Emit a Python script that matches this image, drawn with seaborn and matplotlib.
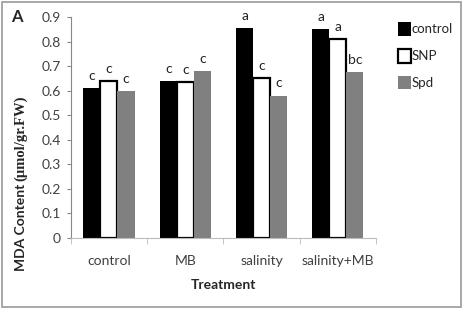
import matplotlib
matplotlib.use("Agg")
import matplotlib.pyplot as plt
import seaborn as sns
import pandas as pd

treatments = ["control", "MB", "salinity", "salinity+MB"]
series = ["control", "SNP", "Spd"]
control_vals = [0.61, 0.64, 0.855, 0.85]
snp_vals = [0.64, 0.635, 0.65, 0.81]
spd_vals = [0.60, 0.68, 0.58, 0.675]
letters_control = ["c", "c", "a", "a"]
letters_snp = ["c", "c", "c", "a"]
letters_spd = ["c", "c", "c", "bc"]

df = pd.DataFrame({
    "Treatment": treatments * 3,
    "group": ["control"] * 4 + ["SNP"] * 4 + ["Spd"] * 4,
    "MDA": control_vals + snp_vals + spd_vals,
})

sns.set_style("white")
plt.rcParams["font.family"] = ["Lato", "DejaVu Sans"]

fig = plt.figure(figsize=(4.63, 3.09), dpi=100)
ax = fig.add_axes([0.153, 0.23, 0.659, 0.715])

pal = {"control": "black", "SNP": "white", "Spd": "#808080"}
sns.barplot(data=df, x="Treatment", y="MDA", hue="group", hue_order=series,
            palette=pal, width=0.67, ax=ax, legend=True)

all_letters = [letters_control, letters_snp, letters_spd]
for i, cont in enumerate(ax.containers):
    for bar, lab in zip(cont, all_letters[i]):
        if series[i] == "SNP":
            bar.set_edgecolor("black")
            bar.set_linewidth(1.6)
        else:
            bar.set_edgecolor("none")
        ax.text(bar.get_x() + bar.get_width() / 2, bar.get_height() + 0.025, lab,
                ha="center", va="bottom", fontsize=10, color="#222222")

ax.set_ylim(0, 0.9)
ax.set_xlim(-0.5, 3.5)
ax.set_yticks([0, 0.1, 0.2, 0.3, 0.4, 0.5, 0.6, 0.7, 0.8, 0.9])
ax.set_yticklabels(["0", "0.1", "0.2", "0.3", "0.4", "0.5", "0.6", "0.7", "0.8", "0.9"])
ax.tick_params(axis="y", labelsize=10, labelcolor="#404040", length=3, color="#888888",
               left=True, direction="out", pad=4)
ax.tick_params(axis="x", labelsize=10, labelcolor="#404040", length=0, pad=12)
ax.set_xticks([-0.5, 0.5, 1.5, 2.5, 3.5], minor=True)
ax.tick_params(axis="x", which="minor", bottom=True, length=4, color="#bbbbbb")

for s in ["top", "right"]:
    ax.spines[s].set_visible(False)
ax.spines["left"].set_color("#888888")
ax.spines["bottom"].set_color("#bbbbbb")
ax.spines["left"].set_linewidth(0.8)
ax.spines["bottom"].set_linewidth(0.8)

ax.set_xlabel("Treatment", fontsize=10, fontweight="bold", labelpad=9)
ax.set_ylabel("")

fig.text(0.045, 0.415, "MDA Content ", rotation=90, ha="center", va="top",
         fontsize=10, fontweight="bold")
fig.text(0.045, 0.415, "(\u00b5mol/gr.FW)", rotation=90, ha="center", va="bottom",
         fontsize=10.5, fontweight="bold", family="Liberation Serif")

fig.text(0.025, 0.93, "A", fontsize=12, fontweight="bold")

leg = ax.legend(loc="upper left", bbox_to_anchor=(1.055, 1.0), frameon=False,
                fontsize=9.5, handlelength=0.95, handleheight=1.2, labelspacing=1.0,
                handletextpad=0.1, borderaxespad=0)
for h in leg.legend_handles:
    h.set_edgecolor("black")
    h.set_linewidth(1.6)
leg.legend_handles[0].set_edgecolor("none")
leg.legend_handles[2].set_edgecolor("none")

border = plt.Rectangle((0.004, 0.008), 0.992, 0.985, transform=fig.transFigure,
                       fill=False, edgecolor="#999999", linewidth=1.2)
fig.add_artist(border)

fig.savefig("out.png", dpi=100)
